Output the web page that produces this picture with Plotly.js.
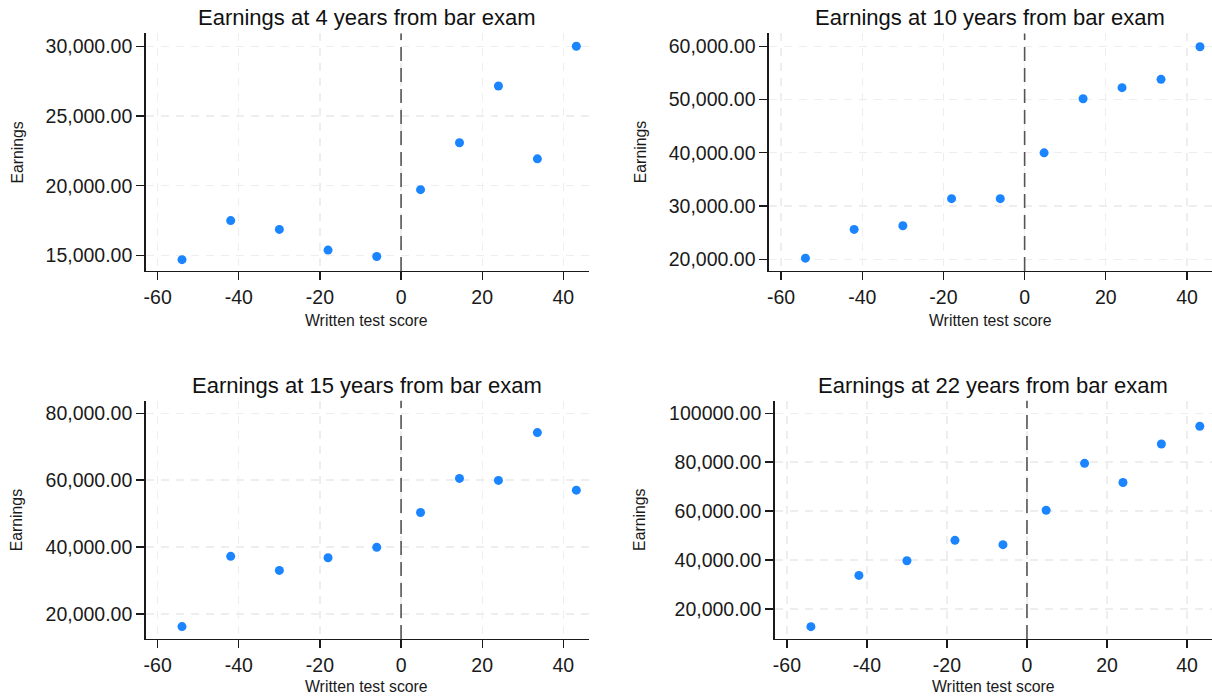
<!DOCTYPE html>
<html>
<head>
<meta charset="utf-8">
<script src="https://cdn.plot.ly/plotly-3.0.1.min.js"></script>
<style>html,body{margin:0;padding:0;background:#fff;}#chart{width:1212px;height:697px;}</style>
</head>
<body>
<div id="chart"></div>
<script>
// Bin midpoints of written test score
const scoreBins = [-54, -42, -30, -18, -6, 4.8, 14.4, 24, 33.6, 43.2];
// Mean earnings by bin
const earnings4  = [14700, 17500, 16870, 15390, 14930, 19720, 23080, 27150, 21930, 30000];
const earnings10 = [20190, 25590, 26280, 31370, 31370, 39970, 50140, 52210, 53780, 59900];
const earnings15 = [16200, 37200, 33000, 36800, 39900, 50300, 60500, 59900, 74200, 57000];
const earnings22 = [12750, 33680, 39690, 48030, 46260, 60340, 79490, 71690, 87420, 94670];

const panelTitles = [
  "Earnings at 4 years from bar exam",
  "Earnings at 10 years from bar exam",
  "Earnings at 15 years from bar exam",
  "Earnings at 22 years from bar exam"
];
const xTitle = "Written test score";
const yTitle = "Earnings";

const xTickVals = [-60, -40, -20, 0, 20, 40];
const xTickText = ["-60", "-40", "-20", "0", "20", "40"];

const yTickVals4  = [15000, 20000, 25000, 30000];
const yTickText4  = ["15,000.00", "20,000.00", "25,000.00", "30,000.00"];
const yTickVals10 = [20000, 30000, 40000, 50000, 60000];
const yTickText10 = ["20,000.00", "30,000.00", "40,000.00", "50,000.00", "60,000.00"];
const yTickVals15 = [20000, 40000, 60000, 80000];
const yTickText15 = ["20,000.00", "40,000.00", "60,000.00", "80,000.00"];
const yTickVals22 = [20000, 40000, 60000, 80000, 100000];
const yTickText22 = ["20,000.00", "40,000.00", "60,000.00", "80,000.00", "100000.00"];

const W = 1212, H = 697;
const FONT = "Liberation Sans, Arial, Helvetica, sans-serif";
const INK = "#1a1a1a";
const DOT = "#1a85ff";

const series = [earnings4, earnings10, earnings15, earnings22];
const yTV = [yTickVals4, yTickVals10, yTickVals15, yTickVals22];
const yTT = [yTickText4, yTickText10, yTickText15, yTickText22];

// layout geometry (pixels)
const xDomPx = [[145.5, 588.5], [768.7, 1212], [145.5, 588.5], [774.5, 1212]];
const yDomPx = [[33.4, 271], [33.4, 271], [400.8, 639], [400.8, 639]];
const xRanges = [[-63.0, 46.2], [-63.05, 46.16], [-63.0, 46.2], [-63.1, 46.25]];
const yRanges = [[13889, 30918], [17784, 62404], [12496, 83707], [7694, 105069]];
const titleY = [17.6, 17.6, 385, 385];
const xTitleY = [320.4, 320.4, 686.8, 686.8];
const yTitleX = [17.4, 640, 17.4, 640];

const traces = [];
const layout = {
  width: W, height: H,
  margin: {l: 0, r: 0, t: 0, b: 0},
  paper_bgcolor: "#fff", plot_bgcolor: "#fff",
  showlegend: false,
  font: {family: FONT, color: INK},
  annotations: [], shapes: []
};

for (let i = 0; i < 4; i++) {
  const s = i === 0 ? "" : String(i + 1);
  traces.push({
    type: "scatter", mode: "markers",
    x: scoreBins, y: series[i],
    xaxis: "x" + s, yaxis: "y" + s,
    marker: {color: DOT, size: 9, line: {width: 0}},
    hoverinfo: "x+y"
  });
  const xd = [xDomPx[i][0] / W, Math.min(1, xDomPx[i][1] / W)];
  const yd = [1 - yDomPx[i][1] / H, 1 - yDomPx[i][0] / H];
  layout["xaxis" + s] = {
    domain: xd, range: xRanges[i], anchor: "y" + s,
    tickmode: "array", tickvals: xTickVals, ticktext: xTickText,
    ticks: "outside", ticklen: 8, tickwidth: 1.3, tickcolor: INK,
    showline: true, linecolor: INK, linewidth: 1.3, mirror: false,
    showgrid: true, gridcolor: "#eeeeee", gridwidth: 1.3, griddash: "8px,7px",
    zeroline: false,
    tickfont: {family: FONT, size: 19.5, color: INK},
    fixedrange: true
  };
  layout["yaxis" + s] = {
    domain: yd, range: yRanges[i], anchor: "x" + s,
    tickmode: "array", tickvals: yTV[i], ticktext: yTT[i],
    ticks: "outside", ticklen: 8, tickwidth: 1.3, tickcolor: INK,
    showline: true, linecolor: INK, linewidth: 1.3, mirror: false,
    showgrid: true, gridcolor: "#eeeeee", gridwidth: 1.3, griddash: "8px,7px",
    zeroline: false,
    tickfont: {family: FONT, size: 19.5, color: INK},
    fixedrange: true
  };
  // cutoff line at score 0
  layout.shapes.push({
    type: "line", xref: "x" + s, yref: "y" + s + " domain",
    x0: 0, x1: 0, y0: 0, y1: 1,
    line: {color: "#555555", width: 1.6, dash: "14px,7px"}
  });
  const cx = (xDomPx[i][0] + xDomPx[i][1]) / 2 / W;
  const cy = 1 - (yDomPx[i][0] + yDomPx[i][1]) / 2 / H;
  layout.annotations.push({
    text: panelTitles[i], xref: "paper", yref: "paper",
    x: cx, y: 1 - titleY[i] / H, xanchor: "center", yanchor: "middle",
    showarrow: false, font: {family: FONT, size: 22, color: "#111"}
  });
  layout.annotations.push({
    text: xTitle, xref: "paper", yref: "paper",
    x: cx, y: 1 - xTitleY[i] / H, xanchor: "center", yanchor: "middle",
    showarrow: false, font: {family: FONT, size: 15.8, color: INK}
  });
  layout.annotations.push({
    text: yTitle, xref: "paper", yref: "paper", textangle: -90,
    x: yTitleX[i] / W, y: cy, xanchor: "center", yanchor: "middle",
    showarrow: false, font: {family: FONT, size: 15.8, color: INK}
  });
}

Plotly.newPlot("chart", traces, layout, {displayModeBar: false, staticPlot: true});
</script>
</body>
</html>
